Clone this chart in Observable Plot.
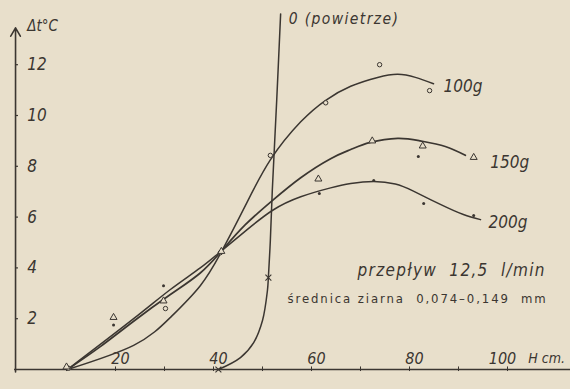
<!DOCTYPE html>
<html>
<head>
<meta charset="utf-8">
<script src="https://cdn.jsdelivr.net/npm/d3@7"></script>
<script src="https://cdn.jsdelivr.net/npm/@observablehq/plot@0.6"></script>
<style>
  html, body { margin: 0; padding: 0; background: #e8dfcb; }
  #chart svg { display: block; }
</style>
</head>
<body>
<div id="chart"></div>
<script>
// ---- data (H in cm, Δt in °C) ----
const h100 = [10.2, 23.7, 31.2, 37.3, 41.8, 46.5, 51.6, 57.8, 62.9, 68.0, 73.5, 77.6, 81.2, 84.9];
const t100 = [0, 0.95, 2.05, 3.3, 4.7, 6.45, 8.25, 9.75, 10.6, 11.15, 11.5, 11.62, 11.5, 11.25];

const h150 = [10.2, 16.9, 23.7, 31.2, 37.3, 41.8, 46.5, 52.0, 57.8, 63.9, 68.0, 72.0, 77.6, 82.2, 87.3, 91.4];
const t150 = [0, 0.9, 1.9, 2.95, 3.8, 4.7, 5.7, 6.65, 7.55, 8.3, 8.66, 8.94, 9.1, 9.0, 8.78, 8.43];

const h200 = [10.2, 23.7, 31.2, 37.3, 41.8, 46.5, 52.0, 57.8, 63.9, 68.0, 72.7, 77.1, 80.8, 86.3, 91.0, 94.5];
const t200 = [0, 2.0, 3.15, 4.0, 4.7, 5.45, 6.26, 6.8, 7.15, 7.32, 7.4, 7.3, 7.02, 6.5, 6.1, 5.9];

const hAir = [41.0, 45.5, 48.2, 50.0, 51.0, 51.2, 51.6, 52.0, 52.9, 53.7];
const tAir = [0, 0.47, 1.06, 1.93, 3.1, 3.62, 5.08, 7.05, 10.6, 14.0];

// measured points
const circH = [10.4, 30.2, 41.4, 51.6, 62.9, 73.9, 84.1];
const circT = [0.05, 2.4, 4.6, 8.43, 10.5, 12.0, 10.98];
const triH = [10.0, 19.6, 29.8, 41.6, 61.4, 72.4, 82.7, 93.1];
const triT = [0.1, 2.05, 2.7, 4.65, 7.5, 9.0, 8.8, 8.35];
const dotH = [19.6, 29.8, 61.6, 72.7, 81.8, 82.9, 93.1];
const dotT = [1.75, 3.3, 6.93, 7.44, 8.39, 6.54, 6.06];
const crossH = [41.0, 51.2];
const crossT = [0, 3.62];

// axes
const yTicks = [2, 4, 6, 8, 10, 12];
const xTicksA = [20, 40, 60, 80];
const xTicksB = [100];
const xMinor = [10, 20, 30, 40, 50, 60, 70, 80, 90, 100];

const zip = (hs, ts) => hs.map((h, i) => ({h, t: ts[i]}));
const s100 = zip(h100, t100), s150 = zip(h150, t150), s200 = zip(h200, t200), sAir = zip(hAir, tAir);

const ink = "#3b3631";
const fontY = "'Liberation Sans Narrow', 'DejaVu Sans Condensed', sans-serif";
const fontT = "'DejaVu Sans Condensed', 'DejaVu Sans', sans-serif";

const airLabel = "0 (powietrze)";
const flowLabel = "przepływ\u00a0\u00a012,5\u00a0\u00a0l/min";
const grainLabel = "średnica\u00a0ziarna\u00a0\u00a00,074–0,149\u00a0\u00a0mm";

const plot = Plot.plot({
  width: 570,
  height: 389,
  marginLeft: 17,
  marginRight: 14,
  marginTop: 13.4,
  marginBottom: 20,
  x: {domain: [0, 110], axis: null},
  y: {domain: [0, 14], axis: null},
  style: {background: "transparent", color: ink},
  marks: [
    // x axis line and small ticks
    Plot.ruleY([0], {x1: -0.6, x2: 112.9, stroke: ink, strokeWidth: 1.6}),
    Plot.ruleX(xMinor, {x: d => d, y1: -0.08, y2: 0.1, stroke: ink, strokeWidth: 1}),
    // y axis with arrow
    Plot.arrow([0], {x1: -0.4, x2: -0.4, y1: -0.1, y2: 13.45, stroke: ink, strokeWidth: 1.6, headLength: 9, bend: 0}),
    Plot.ruleY(yTicks, {y: d => d, x1: -0.4, x2: 0.2, stroke: ink, strokeWidth: 1.2}),
    Plot.text(yTicks, {x: 2, y: d => d, text: d => String(d), textAnchor: "start", fontSize: 17, fontStyle: "italic", fontFamily: fontY, fill: ink}),
    Plot.text(xTicksA, {x: d => d, y: 0, dx: 5, dy: -11, text: d => String(d), fontSize: 16, fontStyle: "italic", fontFamily: fontT, fill: ink}),
    Plot.text(xTicksB, {x: d => d, y: 0, dx: -5, dy: -11, text: d => String(d), fontSize: 16, fontStyle: "italic", fontFamily: fontT, fill: ink}),
    Plot.text(["H cm."], {x: 108, y: 0, dy: -11, text: d => d, fontSize: 14, fontStyle: "italic", fontFamily: fontT, fill: ink}),
    Plot.text(["Δt°C"], {x: 2, y: 13.5, text: d => d, textAnchor: "start", fontSize: 15, fontStyle: "italic", fontFamily: fontT, fill: ink}),

    // curves
    Plot.line(sAir, {x: "h", y: "t", curve: "catmull-rom", stroke: ink, strokeWidth: 1.5}),
    Plot.line(s100, {x: "h", y: "t", curve: "natural", stroke: ink, strokeWidth: 1.5}),
    Plot.line(s150, {x: "h", y: "t", curve: "natural", stroke: ink, strokeWidth: 1.7}),
    Plot.line(s200, {x: "h", y: "t", curve: "natural", stroke: ink, strokeWidth: 1.5}),

    // markers
    Plot.dot(zip(circH, circT), {x: "h", y: "t", r: 2.2, stroke: ink, strokeWidth: 1, fill: "#e8dfcb"}),
    Plot.dot(zip(triH, triT), {x: "h", y: "t", symbol: "triangle", r: 2.6, stroke: ink, strokeWidth: 1, fill: "#e8dfcb"}),
    Plot.dot(zip(dotH, dotT), {x: "h", y: "t", r: 1.5, fill: ink, stroke: "none"}),
    Plot.dot(zip(crossH, crossT), {x: "h", y: "t", symbol: "times", r: 2.8, stroke: ink, strokeWidth: 1.1}),

    // series labels
    Plot.text([s100[s100.length - 1]], {x: "h", y: "t", dx: 10, dy: 3, text: () => "100g", textAnchor: "start", fontSize: 17, fontStyle: "italic", fontFamily: fontT, fill: ink}),
    Plot.text([s150[s150.length - 1]], {x: "h", y: "t", dx: 25, dy: 7, text: () => "150g", textAnchor: "start", fontSize: 17, fontStyle: "italic", fontFamily: fontT, fill: ink}),
    Plot.text([s200[s200.length - 1]], {x: "h", y: "t", dx: 8, dy: 3, text: () => "200g", textAnchor: "start", fontSize: 17, fontStyle: "italic", fontFamily: fontT, fill: ink}),
    Plot.text([sAir[sAir.length - 1]], {x: "h", y: "t", dx: 8, dy: 5, text: () => airLabel, textAnchor: "start", fontSize: 15.5, fontStyle: "italic", fontFamily: fontT, fill: ink}),

    // notes
    Plot.text([flowLabel], {x: 69.4, y: 3.9, text: d => d, textAnchor: "start", fontSize: 17, fontStyle: "italic", fontFamily: fontT, fill: ink}),
    Plot.text([grainLabel], {x: 55.1, y: 2.8, text: d => d, textAnchor: "start", fontSize: 13, fontFamily: fontT, fill: ink})
  ]
});

// letter spacing for the hand-lettered annotations
const spacing = new Map([[airLabel, "1.4px"], [flowLabel, "1.3px"], [grainLabel, "1.9px"]]);
d3.select(plot).selectAll("text").each(function () {
  const s = spacing.get(this.textContent);
  if (s) this.style.letterSpacing = s;
});

document.getElementById("chart").appendChild(plot);
</script>
</body>
</html>
